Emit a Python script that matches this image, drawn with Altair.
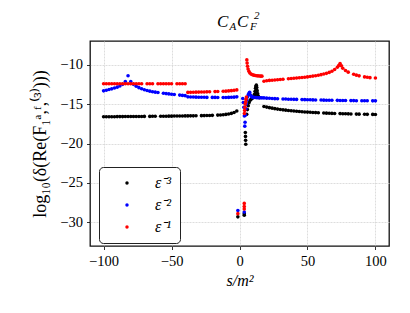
import altair as alt
import pandas as pd

# ---------------- data ----------------
LABELS = ["ε⁻³", "ε⁻²", "ε⁻¹"]
COLORS = ["#000000", "#0000ff", "#ff0000"]

S_L = [-100, -98, -96, -94, -92, -90, -88, -86, -84, -82, -80, -78, -76, -74, -72,
       -70, -68, -66, -64, -62, -60, -58, -56, -54, -52, -50, -48, -46, -44, -42,
       -40, -38, -36, -34, -32, -30, -28, -26, -24, -22, -20, -18, -16, -14, -12,
       -10, -8, -6, -4, -2]

S_R = [18, 20, 22, 24, 26, 28, 30, 32, 34, 36, 38, 40, 42, 44, 46, 48, 50, 52, 54,
       56, 58, 60, 62, 64, 66, 68, 70, 72, 74, 76, 78, 80, 82, 84, 86, 88, 90, 92,
       94, 96, 98, 100]

BLACK_L = [-16.60, -16.60, -16.60, -16.60, -16.60, -16.59, -16.59, -16.59, -16.58, -16.58,
           -16.58, -16.58, -16.57, -16.57, -16.57, -16.56, None, -16.56, -16.55, -16.55,
           None, -16.54, -16.54, -16.54, -16.53, -16.53, -16.52, -16.52, -16.51, -16.51,
           -16.50, -16.50, -16.49, -16.49, -16.48, None, -16.47, -16.46, -16.45, -16.44,
           -16.43, None, -16.40, -16.38, -16.35, -16.31, -16.26, -16.18, -16.06, -15.88]
BLUE_L = [-13.32, -13.24, -13.16, -13.07, -12.97, -12.85, -12.70, -12.50, -12.15, -11.40,
          -12.15, -12.50, -12.74, -12.92, -13.06, -13.18, -13.28, -13.36, -13.43, -13.49,
          -13.54, None, -13.63, -13.67, -13.71, -13.75, -13.79, None, -13.86, -13.90,
          -13.93, -14.08, -14.10, -14.11, -14.12, -14.13, -14.14, -14.14, -14.15, None,
          -14.15, -14.15, -14.16, None, -14.16, -14.16, -14.15, -14.14, -14.12, -14.08]
RED_L = [-12.42, -12.42, -12.42, -12.42, -12.42, -12.42, -12.42, -12.42, -12.42, -12.42,
         -12.42, -12.42, -12.42, -12.42, -12.42, None, -12.42, -12.42, -12.42, None,
         -12.42, -12.42, -12.42, -12.42, -12.42, -12.42, None, -12.42, -12.42, -12.42,
         -12.42, -13.52, -13.51, -13.50, -13.49, -13.48, -13.47, -13.46, -13.45, -13.44,
         None, -13.42, -13.41, None, -13.38, -13.36, -13.33, -13.30, -13.26, -13.20]

BLACK_R = [-15.30, -15.38, -15.45, -15.52, -15.58, -15.64, -15.69, -15.73, -15.77, -15.81,
           -15.85, -15.88, -15.91, -15.94, -15.97, -16.00, -16.02, -16.04, -16.06, -16.08,
           -16.10, None, -16.13, -16.15, -16.16, -16.18, -16.19, None, -16.21, -16.22,
           -16.23, -16.24, -16.25, None, -16.27, -16.28, None, -16.29, -16.30, None,
           -16.31, -16.32]
BLUE_R = [-14.22, -14.25, -14.27, -14.29, -14.31, -14.32, None, -14.35, -14.36, -14.38,
          -14.39, -14.40, -14.41, None, -14.43, -14.44, -14.45, -14.46, -14.47, -14.48,
          None, -14.49, -14.50, -14.51, -14.51, -14.52, None, -14.53, -14.54, -14.54,
          -14.55, None, -14.56, -14.56, -14.57, None, -14.57, -14.58, -14.58, None,
          -14.59, -14.59]
RED_R = [-12.10, -12.05, -12.00, -11.97, -11.94, -11.91, -11.88, -11.85, None, -11.79,
         -11.76, -11.73, -11.70, -11.67, -11.63, -11.59, -11.55, -11.50, -11.45, -11.40,
         -11.34, -11.27, -11.19, -11.10, -10.98, -10.83, -10.62, -10.33, -9.85, -10.45,
         -10.75, -10.95, None, -11.22, -11.33, -11.42, None, -11.55, -11.60, -11.65,
         None, -11.70]

# points near the threshold s ~ 0..16 (and the isolated points near -29)
BLACK_CS = [4.3, 4.4, 4.5, 4.6, 5.3, 5.8, 6.4, 7.1, 7.9, 8.7, 9.5, 10.3, 10.9, 11.4,
            11.8, 12.1, 12.4, 12.7, 13.0, 13.4, 13.9, 14.6, 12.0, 12.3, 12.6, 12.2,
            -1.2, 3.5, 3.5]
BLACK_CY = [-18.6, -19.1, -19.6, -20.1, -16.3, -15.7, -15.2, -14.8, -14.5, -14.35, -14.25,
            -14.1, -13.8, -13.4, -13.0, -12.75, -12.6, -12.9, -13.3, -13.7, -14.0, -14.2,
            -13.3, -13.7, -13.5, -14.0, -29.3, -29.1, -28.9]
BLUE_CS = [2.4, 2.8, 3.2, 3.6, 3.9, 4.1, 4.4, 4.7, 5.0, 5.4, 5.9, 6.5, 7.1, 7.5, 8.1,
           8.8, 9.6, 10.5, 11.5, 12.5, 13.5, 14.5, 15.5, 16.5, -1.2, 3.5]
BLUE_CY = [-14.3, -14.8, -15.4, -16.5, -17.8, -17.3, -16.4, -15.6, -15.0, -14.5, -14.1,
           -13.8, -13.6, -13.5, -13.85, -14.05, -14.12, -14.15, -14.17, -14.18, -14.19,
           -14.2, -14.2, -14.21, -28.5, -28.7]
RED_CS = [3.6, 3.8, 4.0, 4.2, 4.5, 4.8, 5.1, 5.4, 5.6, 5.9, 6.3, 6.9, 7.6, 8.5, 9.5,
          10.5, 11.5, 12.5, 13.5, 14.5, 15.5, 16.5, -1.2, 3.5, 3.5, 3.5, 73.0, 75.0]
RED_CY = [-16.2, -15.8, -15.4, -15.0, -14.7, -14.4, -14.1, -9.4, -9.8, -10.2, -10.55,
          -10.85, -11.05, -11.2, -11.28, -11.33, -11.37, -11.4, -11.42, -11.44, -11.45,
          -11.46, -28.9, -27.6, -28.0, -28.3, -10.1, -10.15]

X_TICKS = [-100, -50, 0, 50, 100]
Y_TICKS = [-30, -25, -20, -15, -10]

# ---------------- build table ----------------
rows = []
series = [
    (LABELS[0], BLACK_L, BLACK_R, BLACK_CS, BLACK_CY),
    (LABELS[1], BLUE_L, BLUE_R, BLUE_CS, BLUE_CY),
    (LABELS[2], RED_L, RED_R, RED_CS, RED_CY),
]
for k, (lab, yl, yr, cs, cy) in enumerate(series):
    for s, y in zip(S_L, yl):
        if y is not None:
            rows.append({"s": s, "y": y, "series": lab, "o": k})
    for s, y in zip(cs, cy):
        rows.append({"s": s, "y": y, "series": lab, "o": k})
    for s, y in zip(S_R, yr):
        if y is not None:
            rows.append({"s": s, "y": y, "series": lab, "o": k})
df = pd.DataFrame(rows)

SERIF = "Liberation Serif"

points = alt.Chart(df).mark_circle(size=13, opacity=1).encode(
    x=alt.X("s:Q", scale=alt.Scale(domain=[-110, 110], nice=False, zero=False),
            axis=alt.Axis(values=X_TICKS, title="s/m²", titleFontStyle="italic",
                          titlePadding=4)),
    y=alt.Y("y:Q", scale=alt.Scale(domain=[-33, -7], nice=False, zero=False),
            axis=alt.Axis(values=Y_TICKS, title="log₁₀(δ(Re(F₁ᵃ,ᶠ,⁽³⁾)))",
                          titlePadding=10, titleFontSize=18)),
    color=alt.Color("series:N", scale=alt.Scale(domain=LABELS, range=COLORS),
                    legend=alt.Legend(title=None, orient="none", legendX=9, legendY=126,
                                      symbolType="circle", symbolSize=12,
                                      labelFont=SERIF, labelFontSize=16,
                                      labelFontStyle="italic",
                                      symbolOffset=12, labelOffset=20,
                                      rowPadding=6, padding=8, cornerRadius=4,
                                      strokeColor="#222222", fillColor="#ffffff")),
    order=alt.Order("o:Q"),
)

title_df = pd.DataFrame({"t": ["C", "A", "C", "F", "2"],
                         "px": [127, 139.5, 147, 160, 164],
                         "py": [-14, -11, -14, -11, -22],
                         "fs": [17, 11, 17, 11, 11]})
title_layers = []
for _, r in title_df.iterrows():
    title_layers.append(
        alt.Chart(pd.DataFrame({"t": [r["t"]]})).mark_text(
            font=SERIF, fontStyle="italic", fontSize=float(r["fs"]),
            align="left", baseline="alphabetic", color="#000000"
        ).encode(x=alt.value(float(r["px"])), y=alt.value(float(r["py"])), text="t:N")
    )

chart = alt.layer(points, *title_layers).properties(
    width=299, height=205,
    autosize=alt.AutoSizeParams(type="none"),
    padding={"left": 82, "top": 33, "right": 13, "bottom": 59},
).configure_view(
    stroke="#111111", strokeWidth=1.3
).configure_axis(
    domain=False, grid=True, gridColor="#d4d4d4", gridWidth=0.8, gridDash=[2, 1],
    ticks=True, tickColor="#000000", tickSize=3.5, tickWidth=0.8,
    labelFont=SERIF, labelFontSize=14.5, labelColor="#000000", labelPadding=4,
    titleFont=SERIF, titleFontSize=16, titleFontWeight="normal", titleColor="#000000",
).configure_axisX(labelPadding=5)

chart.save("out.html", embed_options={"renderer": "svg", "actions": False})
